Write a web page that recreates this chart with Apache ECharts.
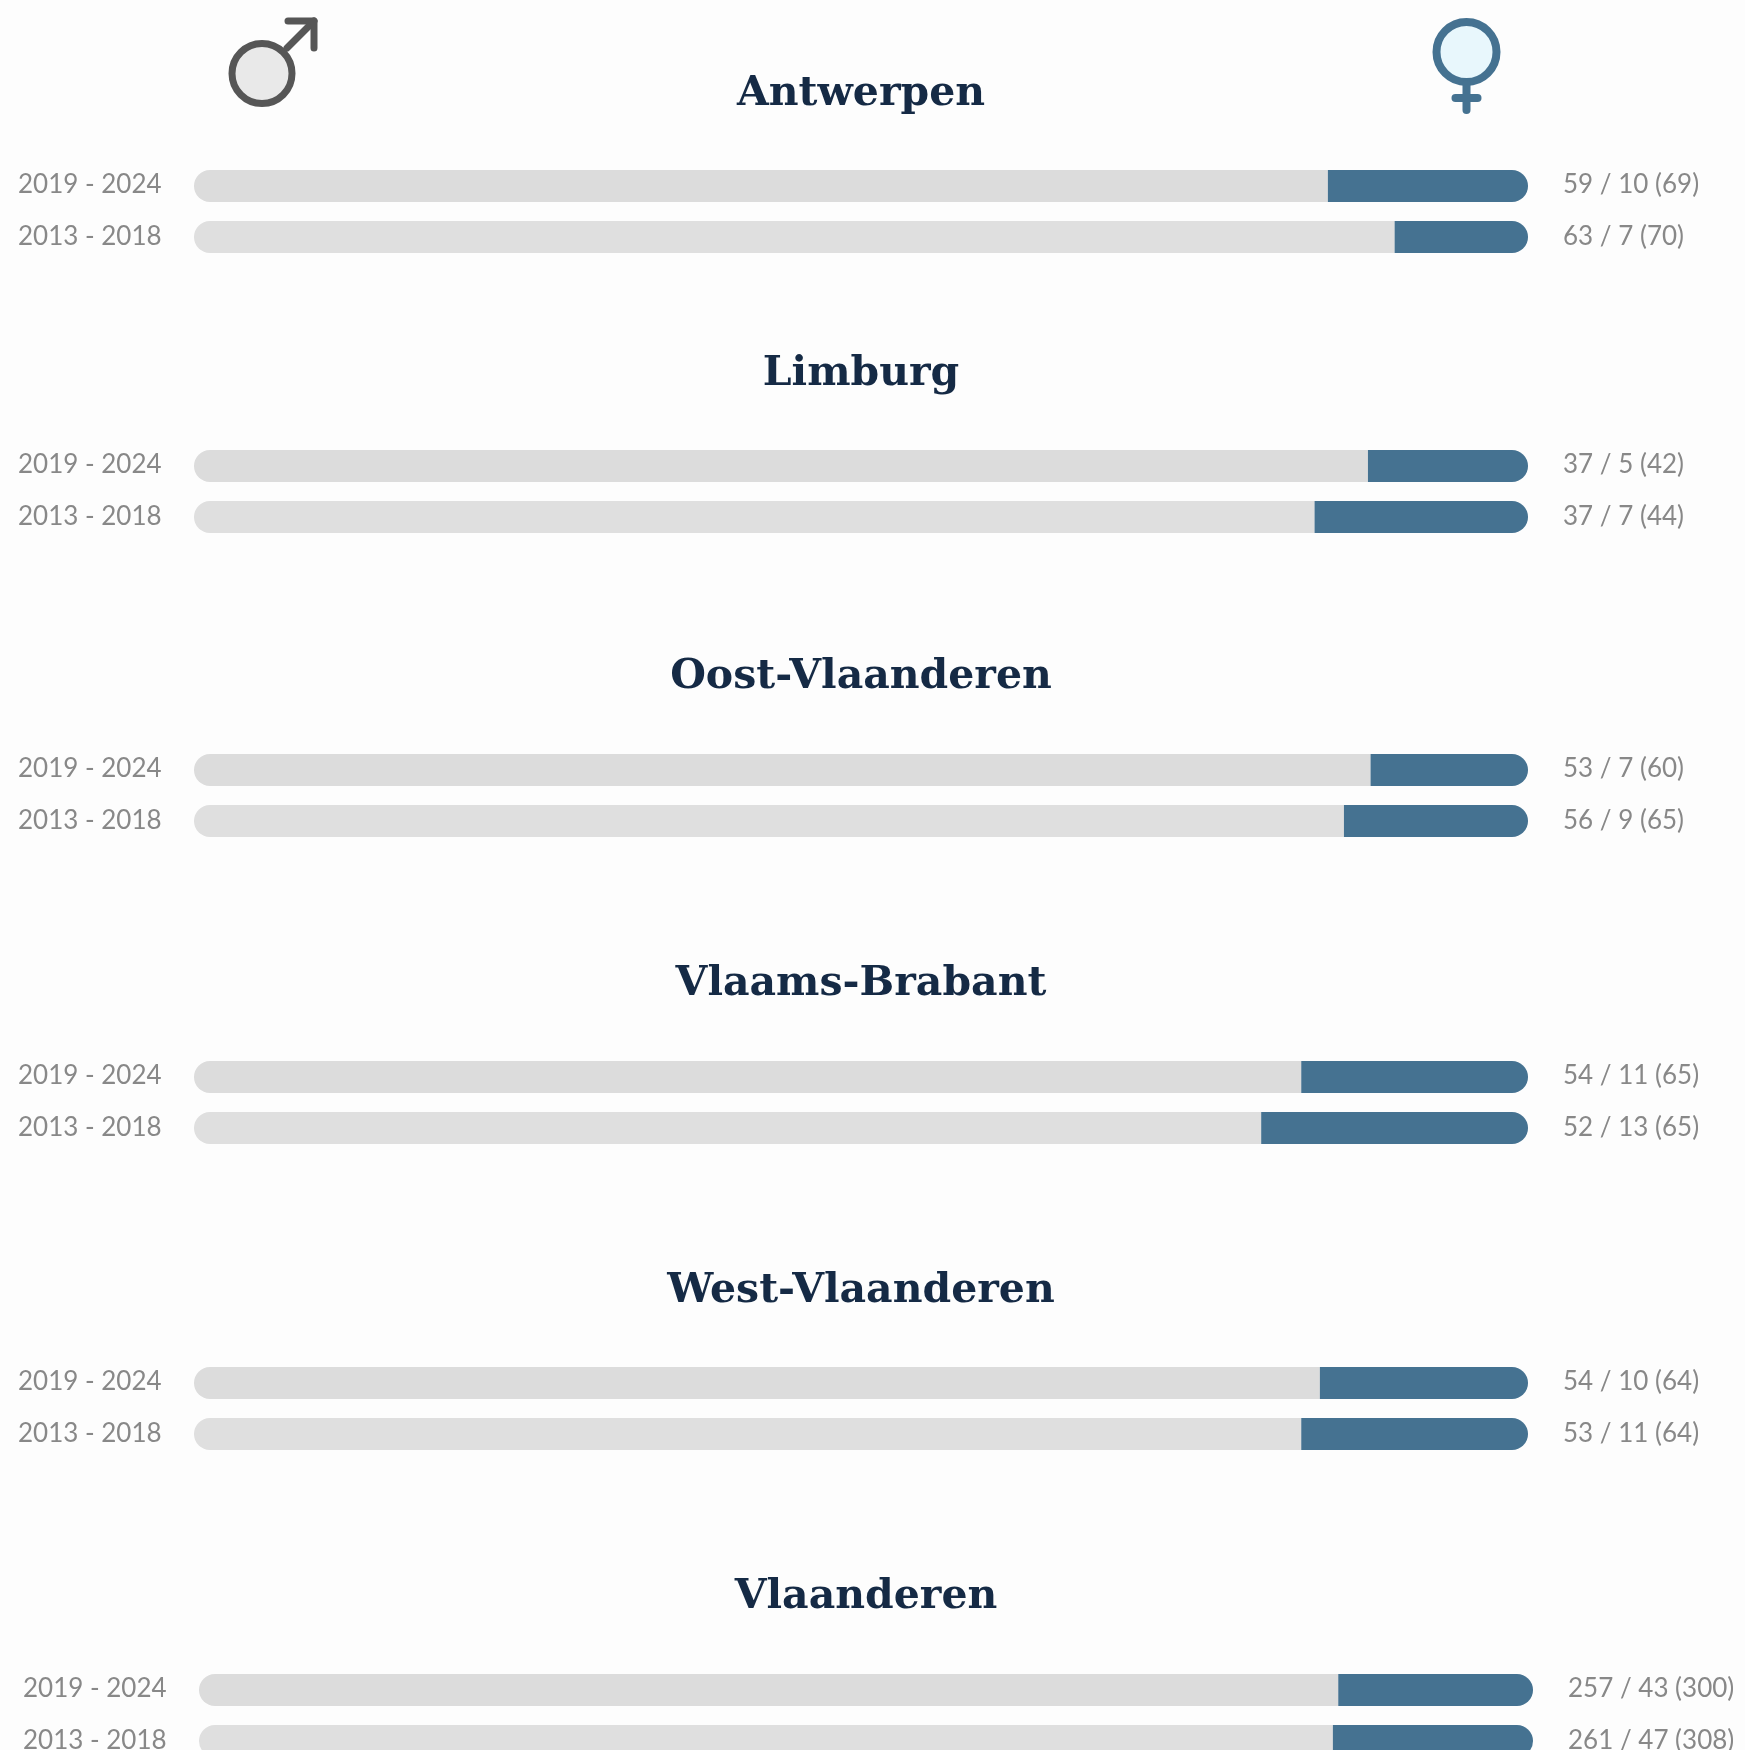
<!DOCTYPE html>
<html>
<head>
<meta charset="utf-8">
<style>
  html, body { margin: 0; padding: 0; background: #fdfdfd; overflow: hidden; }
  #chart { width: 1745px; height: 1750px; }
</style>
<script src="https://cdn.jsdelivr.net/npm/echarts@6/dist/echarts.min.js"></script>
</head>
<body>
<div id="chart"></div>
<script>
const regions = ["Antwerpen", "Limburg", "Oost-Vlaanderen", "Vlaams-Brabant", "West-Vlaanderen", "Vlaanderen"];
const periods = ["2019 - 2024", "2013 - 2018"];

// head counts as printed right of the bars, [2019-2024, 2013-2018]
const men = [[59, 63], [37, 37], [53, 56], [54, 52], [54, 53], [257, 261]];
const women = [[10, 7], [5, 7], [7, 9], [11, 13], [10, 11], [43, 47]];
const totals = [[69, 70], [42, 44], [60, 65], [65, 65], [64, 64], [300, 308]];

// share of men in percent
const menShare = [[85, 90], [88, 84], [88.2, 86.2], [83, 80], [84.4, 83], [85.4, 85]];
const womenShare = [[15, 10], [12, 16], [11.8, 13.8], [17, 20], [15.6, 17], [14.6, 15]];

const gridTops = [160.5, 440.5, 744.5, 1051.5, 1357.5, 1664.5];
const titleTops = [69, 349, 652, 959, 1266, 1572];

const labelFont = "Lato";
const titleFont = "DejaVu Serif";
const blue = "#457291";
const labelColor = "#888888";

const grids = [], xAxes = [], yAxes = [], series = [], titles = [];

// the 2019 labels sit a little higher above their bar than the 2013 ones
const labelStyle = { fontFamily: labelFont, fontSize: 26, color: labelColor };
const richLabel = {
  formatter: (value, index) => (index === 0 ? "{up|" + value + "}" : "{low|" + value + "}"),
  rich: {
    up: { ...labelStyle, padding: [0, 0, 3, 0] },
    low: { ...labelStyle }
  }
};

regions.forEach((name, i) => {
  const shift = i === 5 ? 5 : 0;
  titles.push({
    text: name,
    left: 856 + shift,
    top: titleTops[i],
    textAlign: "center",
    textStyle: { fontFamily: titleFont, fontWeight: "bold", fontSize: 41, color: "#152a45" }
  });
  grids.push({ left: 194 + shift, width: 1334, top: gridTops[i], height: 102, outerBoundsMode: "none" });
  xAxes.push({ gridIndex: i, type: "value", min: 0, max: 100, show: false });

  const rightLabels = periods.map((p, k) => men[i][k] + " / " + women[i][k] + " (" + totals[i][k] + ")");
  const axisCommon = {
    gridIndex: i,
    type: "category",
    inverse: true,
    axisLine: { show: false },
    axisTick: { show: false }
  };
  yAxes.push({
    ...axisCommon,
    position: "left",
    data: periods,
    axisLabel: { ...richLabel, align: "left", margin: 176 }
  });
  yAxes.push({
    ...axisCommon,
    position: "right",
    data: rightLabels,
    axisLabel: { ...richLabel, align: "left", margin: 35 }
  });

  series.push({
    type: "bar",
    stack: "r" + i,
    xAxisIndex: i,
    yAxisIndex: i * 2,
    barWidth: 32,
    data: menShare[i],
    silent: true,
    itemStyle: { borderRadius: [16, 0, 0, 16], color: (p) => (p.dataIndex === 0 ? "#dcdcdc" : "#dfdfdf") }
  });
  series.push({
    type: "bar",
    stack: "r" + i,
    xAxisIndex: i,
    yAxisIndex: i * 2,
    barWidth: 32,
    data: womenShare[i],
    silent: true,
    itemStyle: { borderRadius: [0, 16, 16, 0], color: blue }
  });
});

const maleIcon = [
  { type: "circle", shape: { cx: 262, cy: 73.5, r: 30 }, style: { fill: "#e9e9e9", stroke: "#565656", lineWidth: 7 } },
  { type: "line", shape: { x1: 287, y1: 48, x2: 314, y2: 21 }, style: { stroke: "#565656", lineWidth: 7, lineCap: "round" } },
  { type: "polyline", shape: { points: [[288, 21], [314, 21], [314, 48]] }, style: { fill: "none", stroke: "#565656", lineWidth: 7, lineCap: "round", lineJoin: "round" } }
];
const femaleIcon = [
  { type: "circle", shape: { cx: 1466.5, cy: 52, r: 30 }, style: { fill: "#e8f7fc", stroke: blue, lineWidth: 8 } },
  { type: "line", shape: { x1: 1466.5, y1: 84, x2: 1466.5, y2: 110 }, style: { stroke: blue, lineWidth: 8, lineCap: "round" } },
  { type: "line", shape: { x1: 1455.5, y1: 98, x2: 1477.5, y2: 98 }, style: { stroke: blue, lineWidth: 8, lineCap: "round" } }
];

const myChart = echarts.init(document.getElementById("chart"));
myChart.setOption({
  animation: false,
  backgroundColor: "#fdfdfd",
  title: titles,
  grid: grids,
  xAxis: xAxes,
  yAxis: yAxes,
  series: series,
  graphic: { elements: maleIcon.concat(femaleIcon) }
});
</script>
</body>
</html>
